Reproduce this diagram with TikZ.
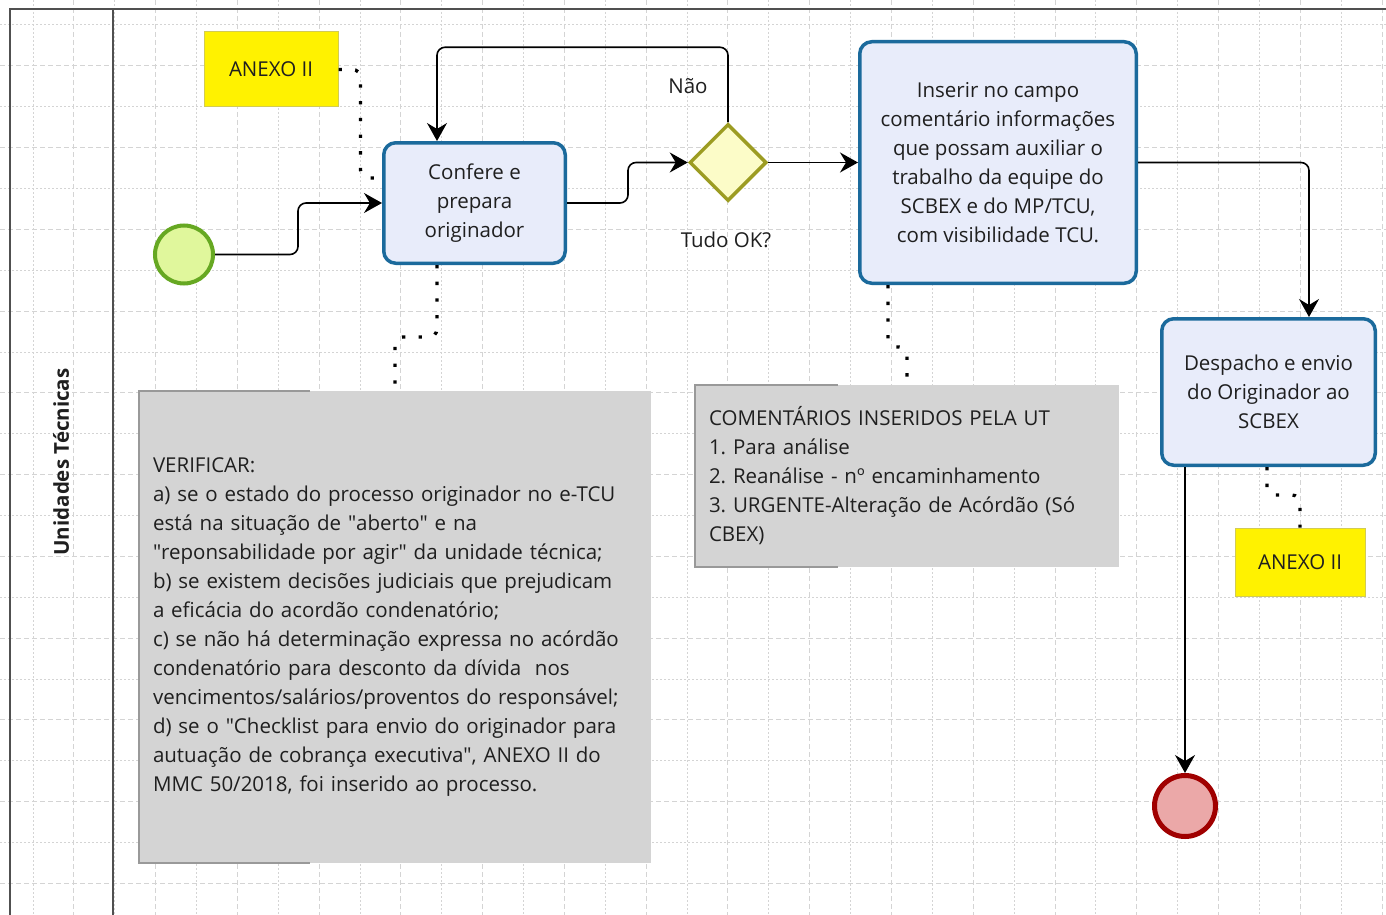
\documentclass[tikz,border=0pt]{standalone}
\usepackage{fontspec}
\setmainfont{Open Sans}
\usepackage{tikz}
\usepackage{xcolor}
\definecolor{taskFill}{HTML}{E8ECFA}
\definecolor{taskLine}{HTML}{1B6A9C}
\definecolor{startFill}{HTML}{E0F79C}
\definecolor{startLine}{HTML}{66A822}
\definecolor{endFill}{HTML}{EBA8A8}
\definecolor{endLine}{HTML}{A00000}
\definecolor{gwFill}{HTML}{FCFCC8}
\definecolor{gwLine}{HTML}{9C9C22}
\definecolor{noteGray}{HTML}{D4D4D4}
\definecolor{gridGray}{HTML}{D4D4D4}
\definecolor{poolGray}{HTML}{505050}
\usetikzlibrary{arrows.meta,shapes.geometric,positioning}
\newcommand{\bpmnfont}{\fontsize{20.5}{29}\selectfont}
\newcommand{\qq}{\textquotedbl}
\frenchspacing
\tikzset{
  task/.style={draw=taskLine, fill=taskFill, line width=3.5pt, rounded corners=12pt,
    align=center, inner sep=0pt, font=\bpmnfont, text=black!88},
  anexo/.style={draw=yellow!60!gray, fill=yellow, line width=1pt, inner sep=0pt,
    font=\bpmnfont, text=black!88},
  note/.style={fill=noteGray, inner xsep=14pt, inner ysep=0pt, align=left,
    font=\bpmnfont, text=black!88},
  bracket/.style={draw=gray!80, line width=1.5pt},
  flow/.style={line width=1.6pt, rounded corners=8pt, -{Stealth[length=18pt,width=20pt,inset=6pt]}},
  assoc/.style={line width=3.3pt, dash pattern=on 3.3pt off 13.4pt, rounded corners=8pt},
  gridA/.style={draw=gridGray, line width=1pt, dash pattern=on 5pt off 3pt},
  gridB/.style={draw=gridGray, line width=1pt, dash pattern=on 2pt off 2pt}
}

\begin{document}
\begin{tikzpicture}[x=1pt,y=-1pt]
  \useasboundingbox (0,0) rectangle (1386,915);
  \fill[white] (0,0) rectangle (1386,915);
  % background grid
  \foreach \i in {1,3,...,33} \draw[gridA] ({33+40.88*\i},0) -- ({33+40.88*\i},915);
  \foreach \i in {0,2,...,32} \draw[gridB] ({33+40.88*\i},0) -- ({33+40.88*\i},915);
  \foreach \j in {1,3,...,21} \draw[gridA] (0,{25+40.88*\j}) -- (1386,{25+40.88*\j});
  \foreach \j in {0,2,...,20} \draw[gridB] (0,{25+40.88*\j}) -- (1386,{25+40.88*\j});

  % pool and lane
  \draw[poolGray, line width=2.2pt] (10,915) -- (10,9) -- (1386,9);
  \draw[poolGray, line width=2.2pt] (113,9) -- (113,915);
  \node[rotate=90, font=\fontsize{20.5}{24}\selectfont\bfseries, text=black!88] (lane) at (61,462) {Unidades Técnicas};

  % events, gateway, tasks
  \node[circle, draw=startLine, fill=startFill, line width=4pt, minimum size=58pt, inner sep=0pt] (start) at (184,254.5) {};
  \node[task, minimum width=181.5pt, minimum height=120.5pt] (confere) at (474.5,203) {Confere e\\prepara\\originador};
  \node[diamond, draw=gwLine, fill=gwFill, line width=3.5pt, minimum width=77pt, minimum height=77pt, inner sep=0pt] (gw) at (728,162.5) {};
  \node[font=\bpmnfont, text=black!88] (gwlabel) at (726,240) {Tudo OK?};
  \node[font=\bpmnfont, text=black!88] (nao) at (688,86) {Não};
  \node[task, minimum width=276.5pt, minimum height=241.5pt] (inserir) at (998,162.5)
    {Inserir no campo\\comentário informações\\que possam auxiliar o\\trabalho da equipe do\\SCBEX e do MP/TCU,\\com visibilidade TCU.};
  \node[task, minimum width=213.5pt, minimum height=146.5pt] (despacho) at (1268.5,392)
    {Despacho e envio\\do Originador ao\\SCBEX};
  \node[circle, draw=endLine, fill=endFill, line width=5pt, minimum size=61pt, inner sep=0pt] (end) at (1185,806) {};

  % data objects and notes
  \node[anexo, minimum width=134pt, minimum height=75pt] (anexoA) at (271,69.5) {ANEXO II};
  \node[anexo, minimum width=130pt, minimum height=68pt] (anexoB) at (1300,562) {ANEXO II};
  \node[note, text width=484pt, minimum height=472pt] (verif) at (395,627)
    {VERIFICAR:\\
     a) se o estado do processo originador no e-TCU\\
     está na situação de \qq aberto\qq{} e na\\
     \qq reponsabilidade por agir\qq{} da unidade técnica;\\
     b) se existem decisões judiciais que prejudicam\\
     a eficácia do acordão condenatório;\\
     c) se não há determinação expressa no acórdão\\
     condenatório para desconto da dívida~ nos\\
     vencimentos/salários/proventos do responsável;\\
     d) se o \qq Checklist para envio do originador para\\
     autuação de cobrança executiva\qq, ANEXO II do\\
     MMC 50/2018, foi inserido ao processo.};
  \draw[bracket] ([xshift=171pt]verif.north west) -- (verif.north west) -- (verif.south west) -- ([xshift=171pt]verif.south west);
  \node[note, text width=396pt, minimum height=182pt] (coment) at (907,476)
    {COMENTÁRIOS INSERIDOS PELA UT\\
     1. Para análise\\
     2. Reanálise - nº encaminhamento\\
     3. URGENTE-Alteração de Acórdão (Só\\
     CBEX)};
  \draw[bracket] ([xshift=143pt]coment.north west) -- (coment.north west) -- (coment.south west) -- ([xshift=143pt]coment.south west);

  % sequence flows
  \draw[flow] (start.east) -- ++(83,0) |- (confere.west);
  \draw[flow] (confere.east) -- ++(61,0) |- (gw.west);
  \draw[flow] (gw.north) -- ++(0,-75) -| ([xshift=-37.5pt]confere.north);
  \draw[flow] (gw.east) -- (inserir.west);
  \draw[flow] (inserir.east) -| ([xshift=40.5pt]despacho.north);
  \draw[flow] (end |- despacho.south) -- (end.north);

  % associations
  \draw[assoc] (anexoA.east) -- ++(22,0) |- ([yshift=25pt]confere.west);
  \draw[assoc] ([xshift=-37.5pt]confere.south) -- ++(0,72) -| (verif.north);
  \draw[assoc] ([xshift=-110pt]inserir.south) -- ++(0,62) -| (coment.north);
  \draw[assoc] ([xshift=-1.5pt]despacho.south) -- ++(0,28) -| (anexoB.north);
\end{tikzpicture}
\end{document}
